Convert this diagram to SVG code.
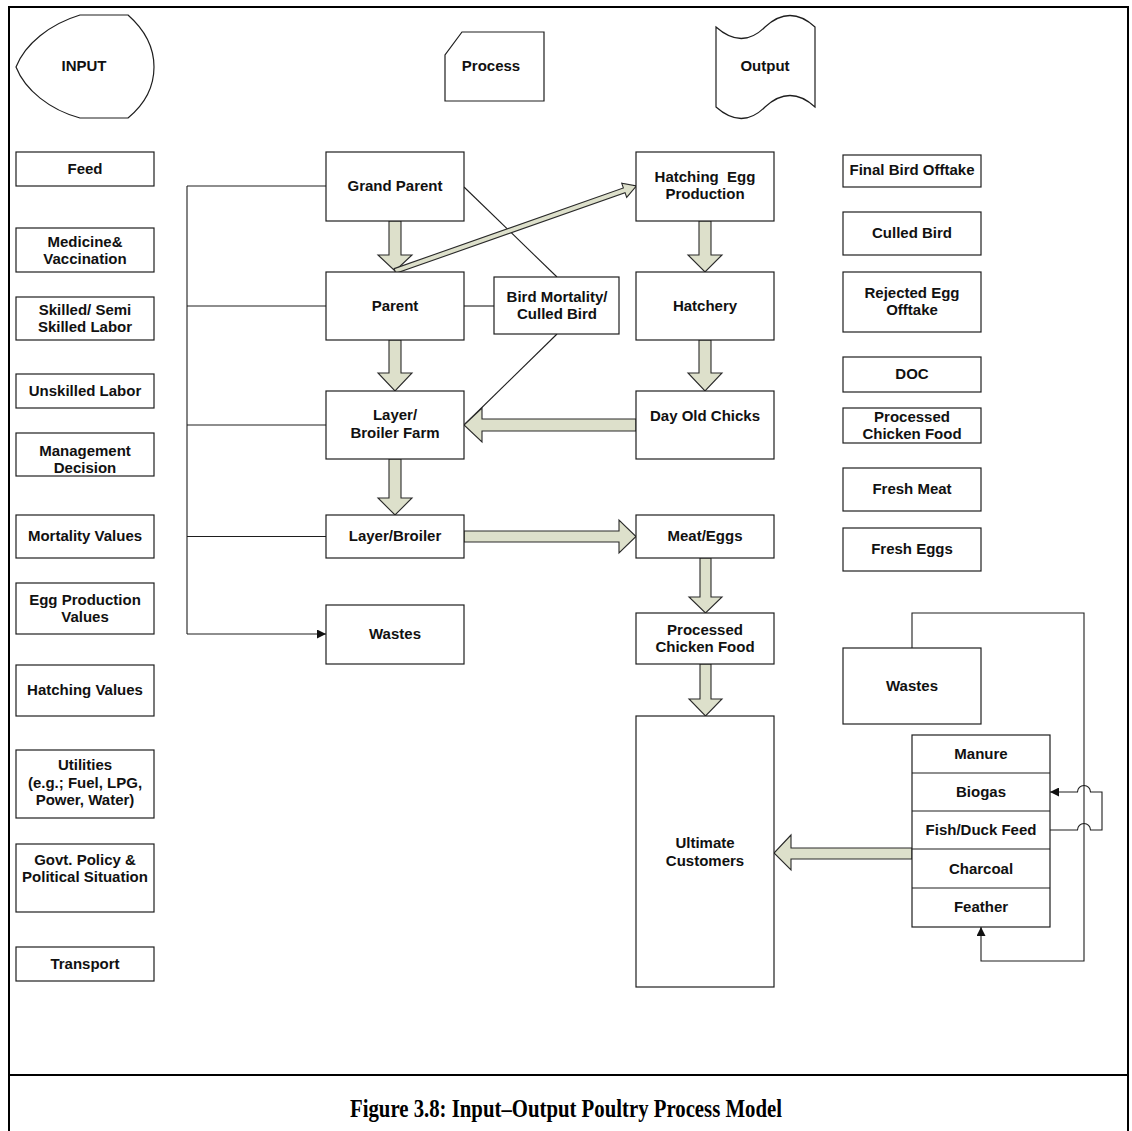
<svg xmlns="http://www.w3.org/2000/svg" width="1132" height="1131" viewBox="0 0 1132 1131">
  <style>
    .box { fill: #ffffff; stroke: #1e1e1e; stroke-width: 1.2; }
    .lbl { font-family: "Liberation Sans", Arial, sans-serif; font-weight: bold; font-size: 15px; fill: #111; text-anchor: middle; }
    .blk { fill: #dde0cb; stroke: #2a2a2a; stroke-width: 1.1; stroke-linejoin: miter; }
    .ln { fill: none; stroke: #1e1e1e; stroke-width: 1.1; }
    .cap { font-family: "Liberation Serif", "Times New Roman", serif; font-weight: bold; font-size: 25px; fill: #000; text-anchor: middle; }
  </style>
  <defs>
    <marker id="tri" viewBox="0 0 10 10" refX="10" refY="5" markerWidth="9" markerHeight="9" markerUnits="userSpaceOnUse" orient="auto">
      <path d="M0,0 L10,5 L0,10 Z" fill="#111"/>
    </marker>
  </defs>

  <rect x="0" y="0" width="1132" height="1131" fill="#ffffff"/>

  <!-- frame and caption band -->
  <rect x="9" y="7" width="1119" height="1140" fill="none" stroke="#000" stroke-width="2"/>
  <line x1="9" y1="1075" x2="1128" y2="1075" stroke="#000" stroke-width="2"/>
  <text class="cap" x="566" y="1117" textLength="432" lengthAdjust="spacingAndGlyphs">Figure 3.8: Input–Output Poultry Process Model</text>

  <!-- legend shapes -->
  <g id="legend-input">
    <path class="box" d="M80,15 L128,15 C145,30 154,48 154,67 C154,86 145,104 128,118 L80,118 C50,110 25,90 16,67 C25,44 50,24 80,15 Z"/>
    <text class="lbl" x="84" y="71">INPUT</text>
  </g>
  <g id="legend-process">
    <polygon class="box" points="462,32 544,32 544,101 445,101 445,55"/>
    <text class="lbl" x="491" y="71">Process</text>
  </g>
  <g id="legend-output">
    <path class="box" d="M716,27 Q742,50 765,27 Q790,4 815,27 L815,107 Q790,84 765,107 Q742,130 716,107 Z"/>
    <text class="lbl" x="765" y="71">Output</text>
  </g>

  <!-- connectors -->
  <g id="connectors">
    <!-- input bus -->
    <path class="ln" d="M187,186 V634"/>
    <path class="ln" d="M187,186 H326"/>
    <path class="ln" d="M187,306 H326"/>
    <path class="ln" d="M187,425 H326"/>
    <path class="ln" d="M187,536.5 H326"/>
    <path class="ln" d="M187,634 H326" marker-end="url(#tri)"/>
    <!-- mortality links -->
    <path class="ln" d="M464,187 L557,277"/>
    <path class="ln" d="M464,306 H494"/>
    <path class="ln" d="M557,334 L464,425"/>
    <!-- waste loop -->
    <path class="ln" d="M912,648 V613 H1084 V961 H981 V927" marker-end="url(#tri)"/>
    <path class="ln" d="M1050,830 H1077.5 A6.5,6.5 0 0 1 1090.5,830 H1102 V792 H1090.5 A6.5,6.5 0 0 0 1077.5,792 H1050" marker-end="url(#tri)"/>

    <!-- block arrows, downward -->
    <polygon class="blk" points="389,221 401,221 401,255 412,255 395,271 378,255 389,255"/>
    <polygon class="blk" points="389,340 401,340 401,373 412,373 395,391 378,373 389,373"/>
    <polygon class="blk" points="389,459 401,459 401,498 412,498 395,515 378,498 389,498"/>
    <polygon class="blk" points="699,221 711,221 711,255 722,255 705,272 688,255 699,255"/>
    <polygon class="blk" points="699,340 711,340 711,373 722,373 705,391 688,373 699,373"/>
    <polygon class="blk" points="700,558 711,558 711,597 722,597 705.5,613 689,597 700,597"/>
    <polygon class="blk" points="700,664 711,664 711,699 722,699 705.5,716 689,699 700,699"/>
    <!-- block arrows, horizontal -->
    <polygon class="blk" points="464,531 619,531 619,520 636,536.5 619,553 619,542 464,542"/>
    <polygon class="blk" points="636,419 482,419 482,408 464,425 482,442 482,431 636,431"/>
    <polygon class="blk" points="912,848 791,848 791,835 774,853 791,870 791,859 912,859"/>
    <!-- diagonal arrow to hatching egg production -->
    <polygon class="blk" transform="translate(395,271) rotate(-19.4)" points="0,-2.5 243,-2.5 243,-7.5 256,0 243,7.5 243,2.5 0,2.5"/>
  </g>

  <!-- input nodes -->
  <g id="in-feed"><rect class="box" x="16" y="152" width="138" height="34"/><text class="lbl" x="85" y="174">Feed</text></g>
  <g id="in-medicine"><rect class="box" x="16" y="228" width="138" height="44"/><text class="lbl" x="85" y="247">Medicine&amp;</text><text class="lbl" x="85" y="264">Vaccination</text></g>
  <g id="in-skilled"><rect class="box" x="16" y="297" width="138" height="43"/><text class="lbl" x="85" y="315">Skilled/ Semi</text><text class="lbl" x="85" y="332">Skilled Labor</text></g>
  <g id="in-unskilled"><rect class="box" x="16" y="374" width="138" height="34"/><text class="lbl" x="85" y="396">Unskilled Labor</text></g>
  <g id="in-management"><rect class="box" x="16" y="433" width="138" height="43"/><text class="lbl" x="85" y="456">Management</text><text class="lbl" x="85" y="473">Decision</text></g>
  <g id="in-mortality"><rect class="box" x="16" y="515" width="138" height="43"/><text class="lbl" x="85" y="541">Mortality Values</text></g>
  <g id="in-eggprod"><rect class="box" x="16" y="583" width="138" height="51"/><text class="lbl" x="85" y="605">Egg Production</text><text class="lbl" x="85" y="622">Values</text></g>
  <g id="in-hatching"><rect class="box" x="16" y="665" width="138" height="51"/><text class="lbl" x="85" y="695">Hatching Values</text></g>
  <g id="in-utilities"><rect class="box" x="16" y="750" width="138" height="68"/><text class="lbl" x="85" y="770">Utilities</text><text class="lbl" x="85" y="788">(e.g.; Fuel, LPG,</text><text class="lbl" x="85" y="805">Power, Water)</text></g>
  <g id="in-govt"><rect class="box" x="16" y="844" width="138" height="68"/><text class="lbl" x="85" y="865">Govt. Policy &amp;</text><text class="lbl" x="85" y="882">Political Situation</text></g>
  <g id="in-transport"><rect class="box" x="16" y="947" width="138" height="34"/><text class="lbl" x="85" y="969">Transport</text></g>

  <!-- process nodes -->
  <g id="p-grandparent"><rect class="box" x="326" y="152" width="138" height="69"/><text class="lbl" x="395" y="191">Grand Parent</text></g>
  <g id="p-parent"><rect class="box" x="326" y="272" width="138" height="68"/><text class="lbl" x="395" y="311">Parent</text></g>
  <g id="p-mortality"><rect class="box" x="494" y="277" width="125" height="57"/><text class="lbl" x="557" y="302">Bird Mortality/</text><text class="lbl" x="557" y="319">Culled Bird</text></g>
  <g id="p-farm"><rect class="box" x="326" y="391" width="138" height="68"/><text class="lbl" x="395" y="420">Layer/</text><text class="lbl" x="395" y="438">Broiler Farm</text></g>
  <g id="p-layer"><rect class="box" x="326" y="515" width="138" height="43"/><text class="lbl" x="395" y="541">Layer/Broiler</text></g>
  <g id="p-wastes"><rect class="box" x="326" y="605" width="138" height="59"/><text class="lbl" x="395" y="639">Wastes</text></g>
  <g id="p-hatchegg"><rect class="box" x="636" y="152" width="138" height="69"/><text class="lbl" x="705" y="182" xml:space="preserve">Hatching  Egg</text><text class="lbl" x="705" y="199">Production</text></g>
  <g id="p-hatchery"><rect class="box" x="636" y="272" width="138" height="68"/><text class="lbl" x="705" y="311">Hatchery</text></g>
  <g id="p-doc"><rect class="box" x="636" y="391" width="138" height="68"/><text class="lbl" x="705" y="421">Day Old Chicks</text></g>
  <g id="p-meateggs"><rect class="box" x="636" y="515" width="138" height="43"/><text class="lbl" x="705" y="541">Meat/Eggs</text></g>
  <g id="p-processed"><rect class="box" x="636" y="613" width="138" height="51"/><text class="lbl" x="705" y="635">Processed</text><text class="lbl" x="705" y="652">Chicken Food</text></g>
  <g id="p-customers"><rect class="box" x="636" y="716" width="138" height="271"/><text class="lbl" x="705" y="848">Ultimate</text><text class="lbl" x="705" y="866">Customers</text></g>

  <!-- waste handling -->
  <g id="w-wastes"><rect class="box" x="843" y="648" width="138" height="76"/><text class="lbl" x="912" y="691">Wastes</text></g>
  <g id="w-stack">
    <rect class="box" x="912" y="735" width="138" height="192"/>
    <path class="ln" d="M912,773 H1050 M912,811 H1050 M912,849 H1050 M912,888 H1050"/>
    <text class="lbl" x="981" y="759">Manure</text>
    <text class="lbl" x="981" y="797">Biogas</text>
    <text class="lbl" x="981" y="835">Fish/Duck Feed</text>
    <text class="lbl" x="981" y="874">Charcoal</text>
    <text class="lbl" x="981" y="912">Feather</text>
  </g>

  <!-- output nodes -->
  <g id="out-final"><rect class="box" x="843" y="155" width="138" height="32"/><text class="lbl" x="912" y="175">Final Bird Offtake</text></g>
  <g id="out-culled"><rect class="box" x="843" y="212" width="138" height="43"/><text class="lbl" x="912" y="238">Culled Bird</text></g>
  <g id="out-rejected"><rect class="box" x="843" y="272" width="138" height="60"/><text class="lbl" x="912" y="298">Rejected Egg</text><text class="lbl" x="912" y="315">Offtake</text></g>
  <g id="out-doc"><rect class="box" x="843" y="357" width="138" height="35"/><text class="lbl" x="912" y="379">DOC</text></g>
  <g id="out-processed"><rect class="box" x="843" y="408" width="138" height="35"/><text class="lbl" x="912" y="422">Processed</text><text class="lbl" x="912" y="439">Chicken Food</text></g>
  <g id="out-meat"><rect class="box" x="843" y="468" width="138" height="43"/><text class="lbl" x="912" y="494">Fresh Meat</text></g>
  <g id="out-eggs"><rect class="box" x="843" y="528" width="138" height="43"/><text class="lbl" x="912" y="554">Fresh Eggs</text></g>
</svg>
